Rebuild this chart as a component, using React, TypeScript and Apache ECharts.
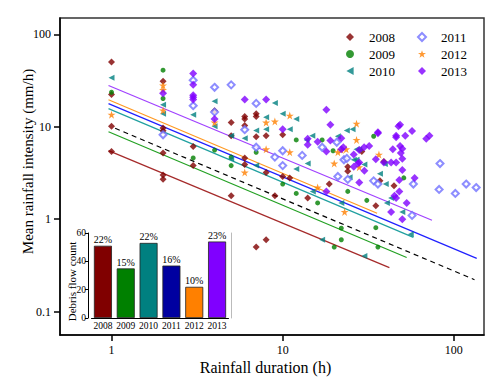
import React, { useEffect, useRef } from 'react';
import * as echarts from 'echarts';

const years = ['2008', '2009', '2010', '2011', '2012', '2013'];
const debrisCounts = [51, 35, 53, 37, 22, 54];
const debrisPct = ['22%', '15%', '22%', '16%', '10%', '23%'];
const xTicks = [1, 10, 100];
const yTicks = [0.1, 1, 10, 100];
const insetTicks = [0, 20, 40, 60];

const pts2008 = [
  [1, 50], [1, 22.3], [1, 10.1], [1, 5.4],
  [2, 31], [2, 9.7], [2, 9.05], [2, 5.2], [2, 3.0], [2, 2.7],
  [3, 6.1], [3, 3.8], [4, 14.9],
  [5, 11.1], [5, 8.0], [5, 1.8],
  [6, 12.9], [6, 12.1], [6, 10.3], [6, 4.6], [6, 3.9],
  [7, 13.8], [7, 12.9], [7, 7.8], [7, 0.5],
  [8, 8.0], [8, 3.2], [8, 0.6], [9, 1.8], [10, 8.2], [10, 2.9], [11, 2.8],
  [14, 1.7], [18.7, 2.4], [24, 3.3], [24, 3.7], [29, 5.4], [35, 1.4], [37, 2.6], [39, 4.2], [44.7, 2.3],
];
const pts2009 = [
  [1, 23.6], [2, 40.9], [2, 20.2], [3, 4.6], [4, 5.6], [5, 4.7], [5, 3.8], [7, 5.3], [10, 2.4],
  [12, 7.2], [12, 1.9], [16, 1.5], [17, 7.2], [19.7, 5.5], [20, 0.5], [22, 0.8], [22, 0.6], [24, 2.0],
  [31, 1.6], [34, 7.9], [35, 0.81], [36, 0.5], [51, 2.8],
];
const pts2010 = [
  [1, 33.8], [2, 17.3], [2, 13.8], [3, 13.5], [4, 18.9], [4, 10.1], [5, 8.0], [5, 4.5], [6, 7.5],
  [7, 9.1], [7, 3.8], [8, 9.4], [8, 12.7], [9, 18.1], [10, 13.8], [11, 9.4], [12, 12.1], [12, 3.5],
  [13.8, 7.2], [14, 4.0], [14.9, 8.0], [15, 2.0], [17, 0.6], [21, 7.9], [22, 1.5], [23.7, 9.1], [25.6, 9.4],
  [24.6, 2.85], [26, 4.4], [27, 4.4], [27, 5.7], [28, 5.7], [30, 3.9], [30, 0.4], [37, 3.1], [39.5, 3.95],
  [40, 2.4], [40.6, 1.5], [43, 1.7], [50, 1.2], [56, 0.69],
];
const pts2011 = [
  [2, 8.2], [3, 31.9], [3, 16.9], [4, 26.7], [4, 14.4], [5, 28.4], [6, 9.3], [7, 17.9], [7, 6.0], [9, 4.7],
  [10, 5.5], [10, 3.8], [13, 4.9], [17, 6.0], [20.7, 6.8], [21, 2.9], [22.8, 4.4], [23.7, 4.55], [24, 2.7],
  [34, 2.6], [36, 2.4], [57, 1.1], [58, 2.4], [82, 2.1], [83, 4.0], [102, 1.9], [118, 2.4], [135, 2.2],
];
const pts2012 = [
  [1, 13.5], [2, 28], [2, 25], [2, 15], [4, 11.1], [6, 3.2], [8, 11.1], [8, 5.7], [9, 11.4], [11, 13.2],
  [11, 5.3], [16, 2.2], [20, 4.0], [21, 5.3], [22, 5.6], [23.5, 5.7], [23, 1.2], [27, 10.8], [27, 7.2],
  [28, 3.65], [36.5, 5.0],
];
const pts2013 = [
  [2, 23], [3, 37.7], [3, 28.4], [3, 21.9], [3, 20.8], [3, 19.7], [4, 12.1], [6, 19.7], [8, 19.7], [10, 9.4],
  [14, 7.4], [14, 6.4], [16, 6.9], [18, 15.3], [18, 5.4], [18, 2.0], [19, 10.5], [19, 7.1], [22, 7.5], [22, 5.7],
  [22.6, 6.0], [26, 5.0], [26, 3.7], [27.5, 4.0], [28, 4.1], [28, 5.6], [28, 2.5], [29.9, 6.0], [30, 3.35],
  [32, 6.2], [35, 4.45], [36, 8.7], [36, 8.5], [39, 4.1], [43, 4.1], [46, 4.1], [43, 1.2], [44, 5.7], [45, 1.8],
  [46, 1.7], [46, 8.0], [46, 7.7], [47.5, 10.1], [48.5, 10.5], [48.5, 6.2], [50, 5.8], [49, 5.2], [50, 4.5],
  [50, 3.4], [48, 2.65], [48, 2.0], [50, 1.0], [52, 8.0], [53, 1.5], [57, 9.0], [59, 2.8], [69, 7.4], [72, 8.0],
];

const fit2008 = [[0.96, 5.52], [42, 0.3]];
const fit2009 = [[0.96, 8.83], [53, 0.386]];
const fit2010 = [[0.96, 15.7], [58, 0.637]];
const fit2011 = [[0.96, 17.8], [136, 0.377]];
const fit2012 = [[0.96, 19.6], [35.6, 1.16]];
const fit2013 = [[0.96, 27.9], [74.5, 0.976]];
const fitAll = [[1.05, 9.63], [132, 0.222]];

const FONT = '"Liberation Serif", "Times New Roman", serif';
const STAR = 'path://M5,0L6.2,3.6L10,3.6L6.9,5.8L8.1,9.5L5,7.2L1.9,9.5L3.1,5.8L0,3.6L3.8,3.6Z';
const LTRI = 'path://M0,5L9,0L9,10Z';

const yearStyles = [
  { pts: pts2008, color: '#800000', symbol: 'diamond', size: 7, fit: fit2008, line: '#a52a2a' },
  { pts: pts2009, color: '#008000', symbol: 'circle', size: 5, fit: fit2009, line: '#22a022' },
  { pts: pts2010, color: '#008080', symbol: LTRI, size: 6, fit: fit2010, line: '#20a0a0' },
  { pts: pts2011, color: '#7070ff', symbol: 'emptyDiamond', size: 7, fit: fit2011, line: '#2020ff' },
  { pts: pts2012, color: '#ff8000', symbol: STAR, size: 8, fit: fit2012, line: '#ff9922' },
  { pts: pts2013, color: '#8000ff', symbol: 'diamond', size: 8, fit: fit2013, line: '#a040ff' },
];
const barColors = ['#800000', '#008000', '#008080', '#0000a0', '#ff8000', '#8000ff'];

function buildOption() {
  const series: any[] = [];
  yearStyles.forEach((s, i) => {
    series.push({
      type: 'line', name: 'fit' + years[i], data: s.fit, xAxisIndex: 0, yAxisIndex: 0,
      showSymbol: false, symbol: 'none', z: 2, silent: true,
      lineStyle: { color: s.line, width: 1.2 },
    });
  });
  series.push({
    type: 'line', name: 'fitAll', data: fitAll, xAxisIndex: 0, yAxisIndex: 0,
    showSymbol: false, symbol: 'none', z: 2, silent: true,
    lineStyle: { color: '#000', width: 1.2, type: [5, 4] },
  });
  yearStyles.forEach((s, i) => {
    series.push({
      type: 'scatter', name: years[i], data: s.pts, xAxisIndex: 0, yAxisIndex: 0,
      symbol: s.symbol, symbolSize: s.size, z: 3,
      itemStyle: s.symbol === 'emptyDiamond'
        ? { color: s.color, borderColor: s.color, borderWidth: 1 }
        : { color: s.color },
    });
  });
  series.push({
    type: 'bar', name: 'count', data: debrisCounts.map((v, i) => ({ value: v, itemStyle: { color: barColors[i] } })),
    xAxisIndex: 1, yAxisIndex: 1, barWidth: 18, z: 5,
    itemStyle: { borderColor: '#222', borderWidth: 0.8 },
    label: {
      show: true, position: 'top', distance: 1, fontFamily: FONT, fontSize: 10, color: '#000',
      formatter: (p: any) => debrisPct[p.dataIndex],
    },
  });

  const legendBase = {
    orient: 'vertical', top: 30, itemWidth: 8, itemHeight: 8, itemGap: 3, padding: 0,
    symbolKeepAspect: true,
    textStyle: { fontFamily: FONT, fontSize: 13, lineHeight: 14, color: '#000', padding: [0, 0, 0, 10] },
  };

  return {
    animation: false,
    backgroundColor: '#fff',
    legend: [
      { ...legendBase, left: 346, data: years.slice(0, 3) },
      { ...legendBase, left: 417, data: years.slice(3) },
    ],
    grid: [
      { left: 60, top: 18, right: 16, bottom: 52, show: true, borderColor: '#333', borderWidth: 1.5, backgroundColor: 'transparent' },
      { left: 91.5, top: 233, width: 137, height: 85, show: false },
    ],
    xAxis: [
      {
        type: 'log', gridIndex: 0, min: 0.5, max: 150, logBase: 10,
        axisLine: { show: true, onZero: false, lineStyle: { color: '#000', width: 1.5 } },
        axisTick: { show: true, length: 6, lineStyle: { color: '#000', width: 1.5 }, customValues: xTicks },
        axisLabel: { customValues: xTicks, fontSize: 12, color: '#000', fontFamily: FONT, margin: 9 },
        minorTick: { show: false }, splitLine: { show: false },
        name: 'Rainfall duration (h)', nameLocation: 'middle', nameGap: 24, nameMoveOverlap: false,
        nameTextStyle: { fontSize: 16, fontFamily: FONT, color: '#000', padding: [0, 13, 0, 0] },
      },
      {
        type: 'category', gridIndex: 1, data: years,
        axisLine: { show: true, lineStyle: { color: '#000', width: 1 } },
        axisTick: { show: false },
        axisLabel: { fontSize: 9.5, color: '#000', fontFamily: FONT, margin: 3, interval: 0 },
        splitLine: { show: false },
      },
    ],
    yAxis: [
      {
        type: 'log', gridIndex: 0, min: 0.056, max: 150, logBase: 10,
        axisLine: { show: true, onZero: false, lineStyle: { color: '#000', width: 1.5 } },
        axisTick: { show: true, length: 6, lineStyle: { color: '#000', width: 1.5 }, customValues: yTicks },
        axisLabel: { customValues: yTicks, fontSize: 12, color: '#000', fontFamily: FONT, margin: 9 },
        minorTick: { show: false }, splitLine: { show: false },
        name: 'Mean rainfall intensity (mm/h)', nameLocation: 'middle', nameGap: 25, nameMoveOverlap: false,
        nameTextStyle: { fontSize: 15, fontFamily: FONT, color: '#000', padding: [0, 0, 0, 30] },
      },
      {
        type: 'value', gridIndex: 1, min: 0, max: 60, interval: 20, offset: 3.5,
        axisLine: { show: true, lineStyle: { color: '#000', width: 1 } },
        axisTick: { show: true, length: 3, lineStyle: { color: '#000' }, customValues: insetTicks },
        axisLabel: { fontSize: 9.5, color: '#000', fontFamily: FONT, margin: 2, customValues: insetTicks },
        splitLine: { show: false },
        name: 'Debris flow count', nameLocation: 'middle', nameGap: 11, nameMoveOverlap: false,
        nameTextStyle: { fontSize: 11, fontFamily: FONT, color: '#000', padding: [0, 12, 0, 0] },
      },
      {
        type: 'value', gridIndex: 1, min: 0, max: 60, position: 'right', offset: 2.5,
        axisLine: { show: true, lineStyle: { color: '#bbb', width: 1 } },
        axisTick: { show: false }, axisLabel: { show: false }, splitLine: { show: false },
      },
    ],
    series,
  };
}

export default function App() {
  const ref = useRef<HTMLDivElement>(null);
  useEffect(() => {
    const chart = echarts.init(ref.current!, null, { renderer: 'svg' });
    chart.setOption(buildOption() as any);
    return () => chart.dispose();
  }, []);
  return (
    <div
      ref={ref}
      style={{ position: 'fixed', left: 0, top: 0, width: 500, height: 387, background: '#fff' }}
    />
  );
}
